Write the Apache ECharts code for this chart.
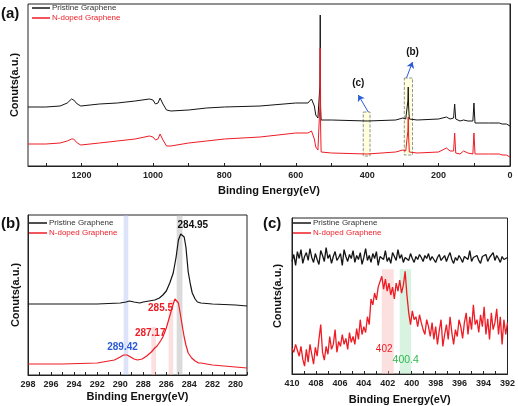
<!DOCTYPE html>
<html>
<head>
<meta charset="utf-8">
<script src="https://cdn.jsdelivr.net/npm/echarts@6/dist/echarts.min.js"></script>
<style>
  html, body { margin: 0; padding: 0; background: #fff; }
  #chart { width: 518px; height: 406px; }
</style>
</head>
<body>
<div id="chart"></div>
<script>
// (a) survey spectra
const surveyEnergy = [1350, 1300, 1260, 1240, 1228, 1222, 1212, 1202, 1150, 1100, 1050, 1010, 1000, 993, 986, 980, 972, 962, 950, 900, 850, 800, 700, 600, 566, 556, 548, 544, 538, 534, 532.5, 531.5, 530.5, 529, 500, 400, 320, 300, 292, 288, 286, 285, 284, 282, 260, 200, 178, 168, 158, 155, 152, 140, 130, 118, 104, 101, 98, 60, 30, 25, 22, 10, 0];
const surveyPristine = [59, 59, 60, 63, 67, 66, 62, 60, 62, 63, 65, 67, 66, 62, 63, 68, 62, 56, 55, 56, 58, 59, 60, 63, 63, 67, 60, 51, 48, 47, 80, 151, 60, 46, 46, 45, 46, 48, 47, 48, 65, 79, 60, 47, 46, 47, 49, 47, 48, 62, 47, 45, 46, 45, 45, 63, 43, 43, 43, 45, 42, 42, 40];
const surveyDoped = [22, 22, 23, 25, 27, 27, 23, 21, 23, 25, 27, 30, 29, 26, 27, 32, 26, 20, 20, 23, 25, 27, 29, 33, 33, 35, 27, 19, 16, 15, 60, 118, 40, 14, 13, 12, 14, 16, 15, 16, 35, 49, 30, 14, 13, 14, 18, 15, 15, 33, 13, 12, 15, 13, 12, 33, 12, 12, 12, 14, 11, 11, 9];
const surveyTicks = [0, 200, 400, 600, 800, 1000, 1200];
const surveyMinorTicks = [0, 100, 200, 300, 400, 500, 600, 700, 800, 900, 1000, 1100, 1200, 1300];

// (b) C1s spectra
const c1sPristineEnergy = [298, 295, 292, 290, 289.5, 289.2, 288.8, 288.3, 288, 287.5, 287, 286.6, 286.3, 286, 285.7, 285.4, 285.15, 284.95, 284.75, 284.6, 284.45, 284.3, 284.1, 283.9, 283.75, 283.5, 283.3, 283, 282, 280, 279];
const c1sPristine = [71, 71, 71, 72, 73, 74, 73, 72, 73, 74, 75, 77, 80, 84, 92, 102, 118, 135, 141, 142, 138, 128, 103, 90, 82, 76, 73, 72, 71, 70, 69];
const c1sDopedEnergy = [298, 295, 292, 291, 290.5, 290, 289.7, 289.4, 289.1, 288.8, 288.5, 288.1, 287.7, 287.3, 287, 286.8, 286.5, 286.3, 286, 285.8, 285.6, 285.4, 285.25, 285.1, 284.95, 284.8, 284.6, 284.45, 284.3, 284.1, 283.8, 283.5, 283.2, 283, 282, 281, 279];
const c1sDoped = [11, 11, 12, 14, 15, 18, 20, 20, 18, 16, 15, 16, 19, 23, 27, 29, 34, 38, 47, 55, 63, 71, 76, 78, 72, 62, 48, 38, 30, 22, 17, 14, 12, 12, 10, 9, 7];
const c1sTicks = [280, 282, 284, 286, 288, 290, 292, 294, 296, 298];
const c1sMinorTicks = [279, 280, 281, 282, 283, 284, 285, 286, 287, 288, 289, 290, 291, 292, 293, 294, 295, 296, 297, 298];

// (c) N1s spectra, 410 -> 392 eV on an even grid
const n1sStart = 410;
const n1sEnd = 392;
const n1sPristine = [
  114, 121, 110, 124, 117, 126, 112, 119, 123, 115, 127,
  118, 113, 122, 116, 111, 125, 120, 114, 128, 117, 121,
  112, 119, 124, 115, 118, 122, 110, 126, 119, 114, 121,
  117, 125, 113, 120, 116, 123, 111, 118, 127, 115, 120,
  113, 122, 117, 124, 110, 119, 121, 116, 125, 114, 118,
  112, 123, 119, 115, 126, 117, 121, 113, 118, 120, 115,
  122, 117, 113, 119, 116, 121, 118, 114, 120, 117, 122,
  115, 119, 116, 113, 118, 121, 115, 117, 120, 114, 119,
  123, 116, 112, 118, 115, 120, 117, 113, 119, 121, 116,
  125, 114, 118, 117, 120, 115, 112, 119, 117, 121, 114,
  118, 116, 123, 115, 120, 117, 113, 119, 116, 114, 118
];
const n1sDoped = [
  26, 22, 30, 24, 18, 28, 15,
  8, 25, 12, 30, 20, 10, 27,
  18, 35, 50, 22, 14, 28, 20,
  38, 25, 30, 45, 22, 33, 28,
  40, 30, 36, 25, 42, 32, 38,
  30, 46, 35, 55, 40, 48, 42,
  58, 50, 76, 70, 82, 75, 88,
  90, 99, 86, 96, 84, 92, 80,
  88, 76, 92, 84, 95, 82, 90,
  104, 80, 62, 50, 64, 55, 58,
  48, 60, 52, 45, 40, 55, 48,
  38, 52, 35, 48, 30, 44, 55,
  28, 40, 50, 35, 58, 42, 30,
  45, 38, 55, 48, 36, 52, 62,
  40, 58, 45, 70, 50, 55, 42,
  60, 48, 68, 40, 56, 35, 62,
  45, 52, 66, 40, 58, 30, 55,
  40, 52
];
const n1sTicks = [392, 394, 396, 398, 400, 402, 404, 406, 408, 410];
const n1sMinorTicks = [392, 393, 394, 395, 396, 397, 398, 399, 400, 401, 402, 403, 404, 405, 406, 407, 408, 409, 410];

const FONT = '"Liberation Sans", Arial, sans-serif';
const BLACK = '#141414';
const RED = '#ee1c25';

const pairs = (xs, ys) => xs.map((x, i) => [x, ys[i]]);
const evenGrid = (ys) => ys.map((y, i) => [n1sStart + (n1sEnd - n1sStart) * i / (ys.length - 1), y]);

function xAxisFor(gridIndex, min, max, labels, ticks, nameGap) {
  return {
    type: 'value', gridIndex, min, max, inverse: true,
    name: 'Binding Energy(eV)', nameLocation: 'middle', nameGap,
    nameTextStyle: { fontFamily: FONT, fontWeight: 'bold', fontSize: 11, color: '#111' },
    axisLine: { show: true, lineStyle: { color: '#222', width: 1 } },
    axisTick: { show: true, inside: true, length: 3, customValues: ticks, lineStyle: { color: '#222' } },
    axisLabel: {
      customValues: labels, margin: 5, formatter: (v) => String(v),
      fontFamily: FONT, fontWeight: 'bold', fontSize: 9, color: '#222'
    },
    splitLine: { show: false }
  };
}
function yAxisFor(gridIndex, max, nameGap) {
  return {
    type: 'value', gridIndex, min: 0, max,
    name: 'Conuts(a.u.)', nameLocation: 'middle', nameGap,
    nameTextStyle: { fontFamily: FONT, fontWeight: 'bold', fontSize: 11, color: '#111' },
    axisLine: { show: true, lineStyle: { color: '#222', width: 1 } },
    axisTick: { show: false }, axisLabel: { show: false }, splitLine: { show: false }
  };
}
function legendFor(left, top) {
  return {
    left, top, orient: 'vertical', padding: 0, itemGap: 2,
    itemWidth: 18, itemHeight: 1.5, icon: 'rect', selectedMode: false,
    textStyle: { fontFamily: FONT, fontSize: 8, padding: [0, 0, 0, -3] },
    data: [
      { name: 'Pristine Graphene', textStyle: { color: '#333' } },
      { name: 'N-doped Graphene', textStyle: { color: RED } }
    ]
  };
}
function spectrum(name, color, idx, data, width) {
  return {
    name, type: 'line', xAxisIndex: idx, yAxisIndex: idx, data,
    symbol: 'none', showSymbol: false, animation: false, z: name === 'N-doped Graphene' ? 4 : 3,
    lineStyle: { color, width }, itemStyle: { color }
  };
}
function band(x0, x1, top, color) {
  return [{ coord: [x0, top], itemStyle: { color } }, { coord: [x1, 0] }];
}
function tag(text, x, y, color, size, weight) {
  return {
    name: text, coord: [x, y], symbol: 'circle', symbolSize: 0,
    label: { show: true, position: 'inside', formatter: '{b}', color, fontSize: size, fontWeight: weight, fontFamily: FONT }
  };
}

const chart = echarts.init(document.getElementById('chart'));
chart.setOption({
  animation: false,
  backgroundColor: '#fff',
  grid: [
    { left: 28, top: 4, width: 482, height: 162, show: true, borderColor: '#222', borderWidth: 1 },
    { left: 28, top: 215, width: 219, height: 160, show: true, borderColor: '#222', borderWidth: 1 },
    { left: 292, top: 218, width: 219, height: 158, show: true, borderColor: '#222', borderWidth: 1 }
  ],
  xAxis: [
    xAxisFor(0, 0, 1350, surveyTicks, surveyMinorTicks, 19),
    xAxisFor(1, 279, 298, c1sTicks, c1sMinorTicks, 16),
    xAxisFor(2, 392, 410, n1sTicks, n1sMinorTicks, 20)
  ],
  yAxis: [yAxisFor(0, 162, 8), yAxisFor(1, 160, 7), yAxisFor(2, 158, 9)],
  legend: [legendFor(32, 4), legendFor(29, 219), legendFor(293, 219)],
  graphic: [
    { type: 'text', left: 1, top: 6, style: { text: '(a)', fontFamily: FONT, fontWeight: 'bold', fontSize: 15, fill: '#111' } },
    { type: 'text', left: 1, top: 216, style: { text: '(b)', fontFamily: FONT, fontWeight: 'bold', fontSize: 15, fill: '#111' } },
    { type: 'text', left: 263, top: 216, style: { text: '(c)', fontFamily: FONT, fontWeight: 'bold', fontSize: 15, fill: '#111' } }
  ],
  series: [
    spectrum('Pristine Graphene', BLACK, 0, pairs(surveyEnergy, surveyPristine), 1),
    spectrum('N-doped Graphene', RED, 0, pairs(surveyEnergy, surveyDoped), 1),
    {
      type: 'line', xAxisIndex: 0, yAxisIndex: 0, data: [], z: 5, silent: true,
      markArea: {
        silent: true,
        itemStyle: { color: 'rgba(255,255,190,0.5)', borderColor: '#777', borderWidth: 0.8, borderType: 'dashed' },
        data: [[{ coord: [296, 88] }, { coord: [273, 11] }], [{ coord: [411, 54] }, { coord: [392, 10] }]]
      },
      markLine: {
        silent: true, symbol: ['none', 'arrow'], symbolSize: 6,
        lineStyle: { color: '#2a5bd7', width: 1, type: 'solid' }, label: { show: false },
        data: [[{ coord: [290, 88] }, { coord: [273, 104] }], [{ coord: [397, 54] }, { coord: [425, 71] }]]
      },
      markPoint: { silent: true, data: [tag('(b)', 273, 114, '#111', 10, 'bold'), tag('(c)', 425, 83, '#111', 10, 'bold')] }
    },
    {
      type: 'line', xAxisIndex: 1, yAxisIndex: 1, data: [], z: 1, silent: true,
      markArea: {
        silent: true,
        data: [
          band(289.7, 289.3, 160, 'rgba(170,185,240,0.4)'),
          band(285.1, 284.6, 160, 'rgba(175,175,175,0.45)'),
          band(287.3, 286.9, 48, 'rgba(248,175,175,0.4)'),
          band(285.8, 285.4, 75, 'rgba(248,175,175,0.4)')
        ]
      },
      markPoint: {
        silent: true,
        data: [
          tag('284.95', 283.7, 150, '#111', 10, 'bold'),
          tag('285.5', 286.5, 67, RED, 10, 'bold'),
          tag('287.17', 287.4, 42, RED, 10, 'bold'),
          tag('289.42', 289.8, 28, '#2a5bd7', 10, 'bold')
        ]
      }
    },
    spectrum('Pristine Graphene', BLACK, 1, pairs(c1sPristineEnergy, c1sPristine), 1.2),
    spectrum('N-doped Graphene', RED, 1, pairs(c1sDopedEnergy, c1sDoped), 1.2),
    {
      type: 'line', xAxisIndex: 2, yAxisIndex: 2, data: [], z: 1, silent: true,
      markArea: {
        silent: true,
        data: [
          band(402.5, 401.5, 106, 'rgba(248,175,175,0.4)'),
          band(401.0, 400.05, 106, 'rgba(160,225,180,0.4)')
        ]
      },
      markPoint: {
        silent: true,
        data: [
          tag('402', 402.3, 25, RED, 10, 'normal'),
          tag('400.4', 400.5, 14, '#2eb84f', 10.5, 'normal')
        ]
      }
    },
    spectrum('Pristine Graphene', BLACK, 2, evenGrid(n1sPristine), 1.3),
    spectrum('N-doped Graphene', RED, 2, evenGrid(n1sDoped), 1.3)
  ]
});
</script>
</body>
</html>
